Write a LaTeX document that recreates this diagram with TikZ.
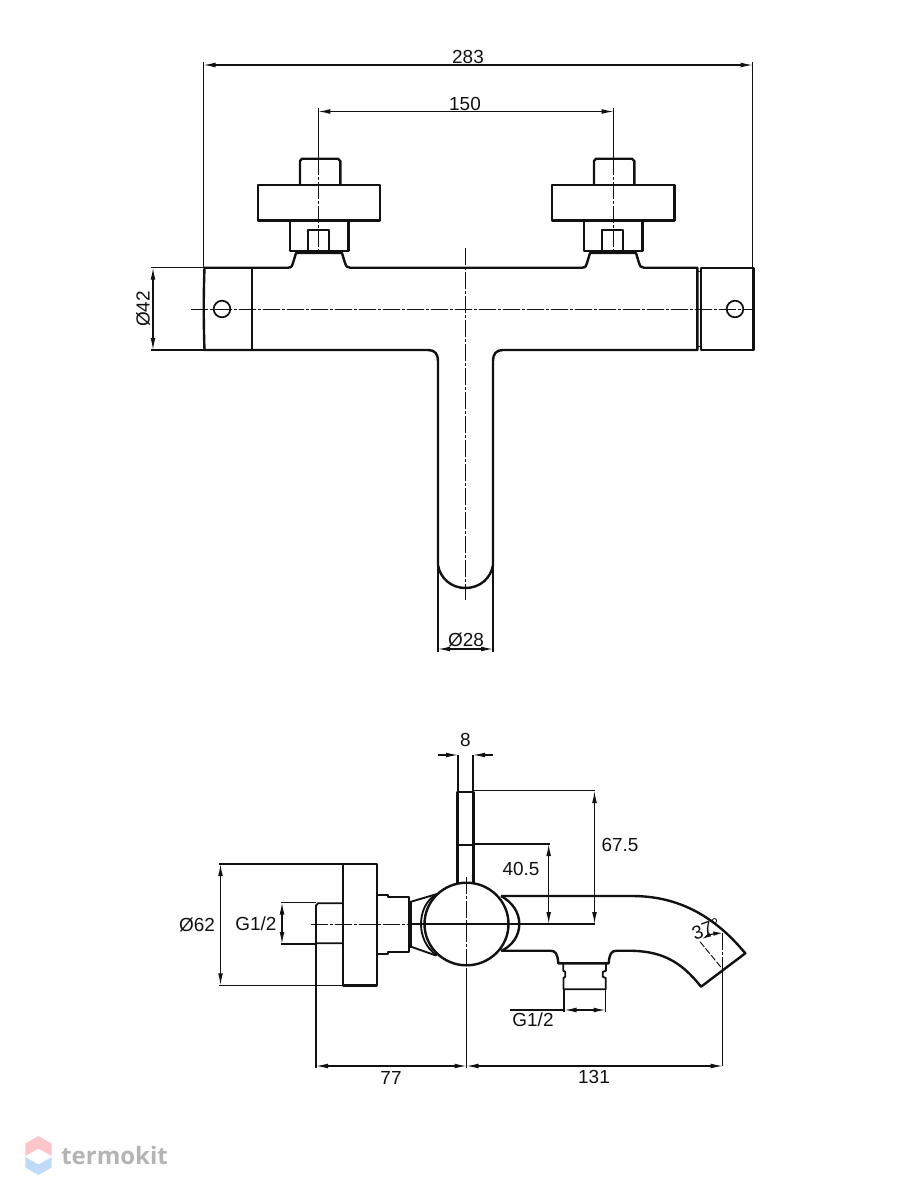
\documentclass[tikz,border=0pt]{standalone}
\usepackage{fontspec}
\setmainfont{Liberation Sans}
\newfontfamily\markfont{Open Sans}
\usetikzlibrary{arrows.meta}
\definecolor{ink}{HTML}{111111}
\definecolor{markgrey}{HTML}{B4B4B4}
\definecolor{markpink}{HTML}{FBC6CB}
\definecolor{markblue}{HTML}{C0DAF9}
\tikzset{
  part/.style={draw=ink,line width=1.8pt,line join=round},
  thin line/.style={draw=ink,line width=0.85pt},
  dim/.style={thin line,{Latex[length=9pt,width=3.6pt]}-{Latex[length=9pt,width=3.6pt]}},
  axis/.style={draw=ink,line width=0.7pt,dash pattern=on 13pt off 1.5pt on 2pt off 1.5pt},
  lbl/.style={inner sep=0pt,text=ink,font=\fontsize{14.2}{16}\selectfont},
}
\begin{document}
\begin{tikzpicture}[x=0.75pt,y=-0.75pt]
\useasboundingbox (0,0) rectangle (900,1200);
% ---------- upper view: outline
\draw[part] (252,267.7) -- (288,267.7) .. controls (292,267.7) and (292.5,265) .. (293,263) -- (296,253)
  -- (342,253) -- (345,263) .. controls (345.5,266) and (347,267.7) .. (350,267.7)
  -- (582,267.7) .. controls (586,267.7) and (586.5,265) .. (587,263) -- (590,253)
  -- (636,253) -- (639,263) .. controls (639.5,266) and (641,267.7) .. (644,267.7)
  -- (697.3,267.7) -- (697.3,350) -- (503,350)
  .. controls (496,350) and (493,354) .. (493,361) -- (493,565)
  .. controls (491,578) and (480,588) .. (465.5,588)
  .. controls (451,588) and (440,578) .. (438,565) -- (438,361)
  .. controls (438,354) and (435,350) .. (428,350) -- (252,350);
\draw[part] (252,267.7) -- (252,350);
\draw[part] (252,267.7) -- (204.5,267.7) .. controls (203.5,295) and (203.5,322) .. (204.5,350) -- (252,350);
\draw[part] (700.7,267.7) rectangle (753.3,350);
\draw[part,line width=1pt] (697.3,271.5) -- (700.7,271.5) (697.3,346.5) -- (700.7,346.5);
\draw[part,line width=1.3pt] (222,309) circle (8.3);
\draw[part,line width=1.3pt] (735,309) circle (8.3);
% left valve
\draw[part] (300,185) -- (300,161) -- (302,158.7) -- (338,158.7) -- (340.3,161) -- (340.3,185);
\draw[part] (257.7,185) rectangle (380,220.3);
\draw[part] (289.7,220.3) rectangle (348.3,251);
\draw[part,line width=1.4pt] (307.7,251) -- (307.7,230.3) -- (329.3,230.3) -- (329.3,251);
\draw[part,line width=2.4pt] (296,252) -- (342,252);
% right valve
\draw[part] (594,185) -- (594,161) -- (596,158.7) -- (632,158.7) -- (634.3,161) -- (634.3,185);
\draw[part] (551.7,185) rectangle (674.3,220.3);
\draw[part] (583.7,220.3) rectangle (642.3,251);
\draw[part,line width=1.4pt] (601.7,251) -- (601.7,230.3) -- (623.3,230.3) -- (623.3,251);
\draw[part,line width=2.4pt] (590,252) -- (636,252);
% axes
\draw[axis] (191,309) -- (755,309);
\draw[axis] (465.5,248) -- (465.5,600);
\draw[axis] (318.3,158) -- (318.3,251);
\draw[axis] (613.7,158) -- (613.7,251);
% upper dimensions
\draw[thin line] (203.5,267) -- (203.5,62) (752.7,267) -- (752.7,62);
\draw[dim] (203.5,65) -- (752.7,65);
\node[lbl] (d283) at (468,56.5) {283};
\draw[thin line] (318.3,108) -- (318.3,158) (613.7,108) -- (613.7,158);
\draw[dim] (318.3,111.5) -- (613.7,111.5);
\node[lbl] (d150) at (465,103.5) {150};
\draw[thin line] (151,267.7) -- (204,267.7) (151,350) -- (204,350);
\draw[dim] (153,267.7) -- (153,350);
\node[lbl,rotate=90] (d42) at (143,309) {Ø42};
\draw[thin line] (438,565) -- (438,652) (493,565) -- (493,652);
\draw[dim] (438,649) -- (493,649);
\node[lbl] (d28) at (466,640) {Ø28};
% ---------- lower view: outline
\draw[part] (342.7,864) rectangle (377,985.3);
\draw[part,line width=1.4pt] (342.7,903.3) -- (318,903.3) -- (316,905.5) -- (316,943.3) -- (342.7,943.3);
\draw[part,line width=1.4pt] (377,895) -- (388,895) -- (388,897) -- (408.7,897) -- (408.7,952.3) -- (388,952.3) -- (388,954.3) -- (377,954.3);
\draw[part,line width=2.6pt] (410,901) -- (410,948);
\draw[part,line width=1.4pt] (411,901.7) -- (437,894) (411,946.7) -- (436,955.5);
\draw[part,line width=1.4pt] (437,894) .. controls (426,900) and (421,912) .. (421,924) .. controls (421,936) and (426,948) .. (437,955.5);
\draw[part] (466.5,924) ellipse (42 and 41.3);
\draw[part] (457.6,791.7) rectangle (473.3,845);
\draw[part] (457.6,845) -- (457.6,883.5) (473.3,845) -- (473.3,883.5);
% spout
\draw[part] (501,896) .. controls (512,902) and (519.3,912) .. (519.3,924) .. controls (519.3,936) and (512,946) .. (501,951);
\draw[part] (501,896) -- (632,896) .. controls (675,896) and (712,913) .. (745.3,953.3)
  -- (701,986.7) .. controls (680,960) and (660,950.7) .. (628,950.7) -- (617,950.7)
  .. controls (611,950.7) and (609.5,954) .. (608.7,963.3) -- (558.3,963.3)
  .. controls (557.5,954) and (556,950.7) .. (550,950.7) -- (501,950.7);
\draw[part,line width=1.4pt] (563.3,963.3) -- (563.3,970.7) -- (565.3,972) -- (565.3,976.7) -- (563.5,978) -- (563.5,989.3) -- (605.7,989.3) -- (605.7,978) -- (602.7,976.7) -- (602.7,972) -- (606,970.7) -- (606,963.3);
% lower axes
\draw[axis] (311,924) -- (410,924);
\draw[axis] (466.5,877) -- (466.5,970);
\draw[axis] (722.7,933) -- (722.7,969);
\draw[axis,dash pattern=on 5pt off 1.5pt] (700,941.7) -- (722.7,969.3);
\draw[thin line] (410,924) -- (595,924);
% lower dimensions
\draw[thin line] (219,864) -- (343,864) (219,985.3) -- (343,985.3);
\draw[dim] (220.5,864) -- (220.5,985.3);
\node[lbl] (d62) at (197,924.5) {Ø62};
\draw[thin line] (281,902.5) -- (316,902.5) (281,944) -- (316,944);
\draw[dim] (282,902.5) -- (282,944);
\node[lbl] (dg1) at (256,924) {G1/2};
\draw[thin line] (458,755) -- (458,791.7) (473,755) -- (473,791.7);
\draw[thin line,-{Latex[length=9pt,width=3.6pt]}] (438,755) -- (458,755);
\draw[thin line,-{Latex[length=9pt,width=3.6pt]}] (493,755) -- (473,755);
\node[lbl] (d8) at (465.5,740) {8};
\draw[thin line] (473,790.5) -- (595,790.5) (473,844) -- (549.5,844);
\draw[dim] (594.5,791) -- (594.5,924);
\draw[dim] (548.7,844) -- (548.7,924);
\node[lbl] (d675) at (620,845) {67.5};
\node[lbl] (d405) at (521,869) {40.5};
\draw[thin line] (564,989) -- (564,1012) (605.5,989) -- (605.5,1012);
\draw[thin line,{Latex[length=9pt,width=3.6pt]}-{Latex[length=9pt,width=3.6pt]}] (564.5,1010) -- (605.5,1010);
\draw[thin line] (510,1010) -- (564.5,1010);
\node[lbl] (dg2) at (533,1020) {G1/2};
\draw[thin line] (316,943.3) -- (316,1068) (466.5,970) -- (466.5,1068) (722.7,969) -- (722.7,1066);
\draw[dim] (316,1066) -- (466.5,1066);
\draw[dim] (466.5,1066) -- (722.7,1066);
\node[lbl] (d77) at (391,1078) {77};
\node[lbl] (d131) at (594,1077) {131};
\draw[thin line,{Latex[length=7pt,width=3.4pt]}-{Latex[length=7pt,width=3.4pt]}] (702,939) .. controls (709,935) and (715,933.5) .. (722.7,933);
\node[lbl,rotate=20] (d37) at (706,929) {37°};
% ---------- watermark
\fill[markpink] (38.5,1136) -- (51.7,1143.5) -- (51.7,1156) -- (38.5,1148.5) -- (25.3,1156) -- (25.3,1143.5) -- cycle;
\fill[markblue] (25.3,1157) -- (38.5,1164.5) -- (51.7,1157) -- (51.7,1167.5) -- (38.5,1175) -- (25.3,1167.5) -- cycle;
\node[inner sep=0pt,anchor=west,text=markgrey,font=\markfont\bfseries\fontsize{18}{20}\selectfont] (markname) at (61,1155.5) {termokit};
\end{tikzpicture}
\end{document}
